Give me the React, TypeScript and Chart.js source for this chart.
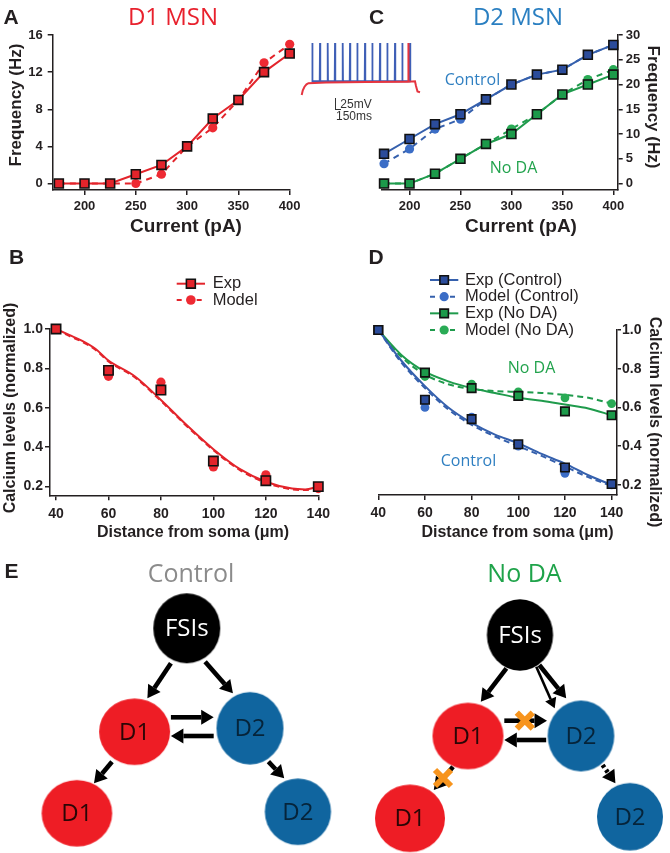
import React, { useEffect, useRef } from "react";
import { Chart, registerables } from "chart.js";

Chart.register(...registerables);

// ================= DATA =================
// Panel A – D1 MSN f-I curve
const currentPA = [175, 200, 225, 250, 275, 300, 325, 350, 375, 400];
const currentTicks = [200, 250, 300, 350, 400];
const d1ExpHz = [0, 0, 0, 1, 2, 4, 7, 9, 12, 14];
const d1ModelHz = [0, 0, 0, 0, 1, 4, 6, 9, 13, 15];
const freqTicksA = [0, 4, 8, 12, 16];

// Panel C – D2 MSN f-I curves
const d2CtrlExpHz = [6, 9, 12, 14, 17, 20, 22, 23, 26, 28];
const d2CtrlModelHz = [4, 7, 11, 13, 17, 20, 22, 23, 26, 28];
const d2NoDAExpHz = [0, 0, 2, 5, 8, 10, 14, 18, 20, 22];
const d2NoDAModelHz = [0, 0, 2, 5, 8, 11, 14, 18, 21, 23];
const freqTicksC = [0, 5, 10, 15, 20, 25, 30];

// Panels B, D – calcium vs distance
const distUm = [40, 60, 80, 100, 120, 140];
const distTicks = [40, 60, 80, 100, 120, 140];
const caTicks = [0.2, 0.4, 0.6, 0.8, 1.0];
const d1CaExp = [1.0, 0.79, 0.69, 0.33, 0.23, 0.2];
const d1CaModel = [1.0, 0.76, 0.73, 0.3, 0.26, 0.19];
const d1FitUm = [40, 45, 50, 55, 60, 70, 80, 90, 100, 110, 120, 130, 135, 140];
const d1FitExp = [1.0, 0.97, 0.94, 0.9, 0.84, 0.76, 0.64, 0.51, 0.39, 0.29, 0.225, 0.19, 0.186, 0.2];
const d1FitModel = [0.998, 0.965, 0.935, 0.895, 0.835, 0.755, 0.635, 0.505, 0.385, 0.285, 0.22, 0.186, 0.183, 0.195];

const d2CaCtrlExp = [1.0, 0.64, 0.54, 0.41, 0.29, 0.205];
const d2CaCtrlModel = [1.0, 0.6, 0.55, 0.4, 0.26, 0.2];
const d2CaNoDAExp = [1.0, 0.78, 0.7, 0.66, 0.58, 0.56];
const d2CaNoDAModel = [1.0, 0.76, 0.72, 0.68, 0.65, 0.62];
const d2FitUm = [40, 50, 60, 70, 80, 90, 100, 110, 120, 130, 140];
const d2FitCtrlExp = [1.0, 0.84, 0.71, 0.6, 0.52, 0.46, 0.415, 0.36, 0.31, 0.25, 0.2];
const d2FitCtrlModel = [1.0, 0.83, 0.7, 0.59, 0.51, 0.45, 0.4, 0.35, 0.295, 0.24, 0.195];
const d2FitNoDAExp = [1.0, 0.87, 0.785, 0.735, 0.7, 0.675, 0.65, 0.635, 0.615, 0.595, 0.56];
const d2FitNoDAModel = [1.0, 0.86, 0.77, 0.72, 0.695, 0.685, 0.68, 0.675, 0.665, 0.65, 0.62];

const legendB = ["Exp", "Model"];
const legendD = ["Exp (Control)", "Model (Control)", "Exp (No DA)", "Model (No DA)"];

// Inset voltage traces (time in ms, voltage in mV)
const spikeTimesMs = [163, 240, 317, 390, 467, 540, 613, 690, 763, 840, 913, 990, 1063, 1140];
const spikePeakMv = 20;
const blueBaseMv = -78;
const redTraceMs = [57, 68, 85, 105, 125, 300, 700, 1100, 1120, 1123, 1126, 1190, 1200, 1215, 1240];
const redTraceMv = [-113, -101, -92, -86, -83, -81, -80, -79, -79, 20, -79, -78, -90, -104, -106];

// Panel E – circuit diagram (diagram units)
const nodeNames = ["FSIs", "D1", "D2", "D1", "D2", "FSIs", "D1", "D2", "D1", "D2"];
const nodeKind = ["fsi", "d1", "d2", "d1", "d2", "fsi", "d1", "d2", "d1", "d2"];
const nodeX = [186.8, 134.6, 250, 76.9, 297.9, 520, 468, 581, 410, 630];
const nodeY = [628.3, 731.7, 728.3, 813.3, 811.7, 635, 736, 736, 818.3, 816.7];
const nodeRx = [33.5, 35.5, 33.5, 35.3, 33.1, 33.1, 35.5, 33.3, 35, 33];
const nodeRy = [35, 33.3, 36.2, 33.3, 33.3, 35.8, 33.3, 35.5, 33.8, 33.7];
const arrowX1 = [170.9, 205.1, 170.9, 213.7, 112, 268.4, 506.4, 539.3, 536.3, 504.3, 546.2, 453, 602.6];
const arrowY1 = [663.3, 661.7, 717.3, 736, 761.7, 761.7, 668.3, 665, 666.7, 720.7, 740, 766.7, 765];
const arrowX2 = [147.4, 232.9, 213.7, 170.9, 94, 284.2, 480.8, 566.2, 554.7, 547, 504.3, 433.8, 615.4];
const arrowY2 = [698.3, 693.3, 717.3, 736, 783.3, 778.3, 701.7, 698.3, 708.3, 720.7, 740, 790, 783.3];
const arrowKind = ["solid", "solid", "solid", "solid", "solid", "solid", "solid", "solid", "thin", "solid", "solid", "solid", "dotted"];
const blockX = [524.8, 443];
const blockY = [720.7, 778];

// ================= STYLE =================
const ARIAL = "'Liberation Sans', Arial, Helvetica, sans-serif";
const MYRIAD = "'Open Sans', 'Noto Sans', sans-serif";
const INK = "#231f20";
const AXIS = "#231f20";
const RED = "#e3242b";
const RED_DOT = "#ee2a33";
const BLUE_LINE = "#3560ad";
const BLUE_SQ = "#2b4c9b";
const BLUE_DOT = "#3b6dc6";
const GREEN_LINE = "#1f9b4c";
const GREEN_SQ = "#1c9a4a";
const GREEN_DOT = "#29ab55";

const xy = (xs: number[], ys: number[]) => xs.map((x, i) => ({ x, y: ys[i] }));

function linScale(o: any) {
  const isX = o.pos === "bottom";
  return {
    type: "linear",
    position: o.pos,
    min: o.min,
    max: o.max,
    afterBuildTicks: (s: any) => {
      s.ticks = o.ticks.map((v: number) => ({ value: v }));
    },
    afterFit: (s: any) => {
      if (isX) s.height = o.fit;
      else s.width = o.fit;
    },
    grid: {
      display: true,
      drawOnChartArea: false,
      drawTicks: true,
      tickLength: o.tickLen ?? 5,
      tickWidth: 1.5,
      color: AXIS,
      lineWidth: 1.5,
    },
    border: { display: true, color: AXIS, width: 1.5 },
    ticks: {
      autoSkip: false,
      maxRotation: 0,
      padding: o.pad,
      color: INK,
      font: { family: ARIAL, size: o.size, weight: "bold" },
      callback: o.fmt ? o.fmt : (v: any) => String(v),
    },
  };
}

function baseOptions(padding: any, scales: any) {
  return {
    responsive: false,
    animation: false,
    events: [],
    layout: { padding, autoPadding: false },
    plugins: { legend: { display: false }, tooltip: { enabled: false } },
    scales,
  };
}

function drawMarker(ctx: CanvasRenderingContext2D, style: string, x: number, y: number, r: number, fill: string, bw: number) {
  ctx.beginPath();
  if (style === "rect") {
    const s = r * Math.SQRT1_2;
    ctx.rect(x - s, y - s, 2 * s, 2 * s);
  } else {
    ctx.arc(x, y, r, 0, Math.PI * 2);
  }
  ctx.fillStyle = fill;
  ctx.fill();
  if (bw > 0) {
    ctx.lineWidth = bw;
    ctx.strokeStyle = "#111";
    ctx.stroke();
  }
}

function makeLegend(id: string, items: any[], g: any) {
  return {
    id,
    afterDraw(chart: any) {
      const ctx = chart.ctx as CanvasRenderingContext2D;
      items.forEach((it, i) => {
        const y = g.y + i * g.rowH;
        ctx.save();
        ctx.strokeStyle = it.color;
        ctx.lineWidth = 2;
        ctx.setLineDash(it.dash);
        ctx.beginPath();
        ctx.moveTo(g.x0, y);
        ctx.lineTo(g.x1, y);
        ctx.stroke();
        ctx.setLineDash([]);
        drawMarker(ctx, it.marker, (g.x0 + g.x1) / 2, y, it.r, it.fill, it.bw);
        ctx.fillStyle = INK;
        ctx.font = `16.5px ${ARIAL}`;
        ctx.textBaseline = "middle";
        ctx.textAlign = "left";
        ctx.fillText(it.label, g.tx, y);
        ctx.restore();
      });
    },
  };
}

// ================= CHART CONFIGS =================
function configA() {
  return {
    type: "scatter",
    data: {
      datasets: [
        {
          data: xy(currentPA, d1ExpHz), showLine: true, borderColor: RED, borderWidth: 2,
          pointStyle: "rect", pointRadius: 6.3, pointBackgroundColor: RED, pointBorderColor: "#111",
          pointBorderWidth: 1.6, clip: false, order: 0,
        },
        {
          data: xy(currentPA, d1ModelHz), showLine: true, borderColor: RED, borderWidth: 2, borderDash: [6, 5],
          pointStyle: "circle", pointRadius: 4.6, pointBackgroundColor: RED_DOT, pointBorderWidth: 0, clip: false, order: 1,
        },
      ],
    },
    options: baseOptions(
      { left: 0, right: 45.3, top: 35, bottom: 0 },
      {
        x: linScale({ pos: "bottom", min: 169, max: 400, ticks: currentTicks, fit: 50, pad: 4, size: 13 }),
        y: linScale({ pos: "left", min: -0.7, max: 16, ticks: freqTicksA, fit: 52.7, pad: 5, size: 13 }),
      }
    ),
  };
}

function configC() {
  return {
    type: "scatter",
    data: {
      datasets: [
        {
          data: xy(currentPA, d2CtrlExpHz), showLine: true, borderColor: BLUE_LINE, borderWidth: 2,
          pointStyle: "rect", pointRadius: 6.3, pointBackgroundColor: BLUE_SQ, pointBorderColor: "#111",
          pointBorderWidth: 1.6, clip: false, order: 0,
        },
        {
          data: xy(currentPA, d2NoDAExpHz), showLine: true, borderColor: GREEN_LINE, borderWidth: 2,
          pointStyle: "rect", pointRadius: 6.3, pointBackgroundColor: GREEN_SQ, pointBorderColor: "#111",
          pointBorderWidth: 1.6, clip: false, order: 1,
        },
        {
          data: xy(currentPA, d2CtrlModelHz), showLine: true, borderColor: BLUE_LINE, borderWidth: 2, borderDash: [6, 5],
          pointStyle: "circle", pointRadius: 4.6, pointBackgroundColor: BLUE_DOT, pointBorderWidth: 0, clip: false, order: 2,
        },
        {
          data: xy(currentPA, d2NoDAModelHz), showLine: true, borderColor: GREEN_LINE, borderWidth: 2, borderDash: [6, 5],
          pointStyle: "circle", pointRadius: 4.6, pointBackgroundColor: GREEN_DOT, pointBorderWidth: 0, clip: false, order: 3,
        },
      ],
    },
    options: baseOptions(
      { left: 46.7, right: 0, top: 35, bottom: 0 },
      {
        x: linScale({ pos: "bottom", min: 172.7, max: 404.3, ticks: currentTicks, fit: 50, pad: 4, size: 13 }),
        y: linScale({ pos: "right", min: -1.3, max: 30, ticks: freqTicksC, fit: 52.3, pad: 3, size: 13 }),
      }
    ),
  };
}

const fmt1 = (v: any) => Number(v).toFixed(1);

function configB() {
  return {
    type: "scatter",
    data: {
      datasets: [
        {
          data: xy(distUm, d1CaExp), showLine: false, pointStyle: "rect", pointRadius: 6.6,
          pointBackgroundColor: RED, pointBorderColor: "#111", pointBorderWidth: 1.6, clip: false, order: 0,
        },
        {
          data: xy(distUm, d1CaModel), showLine: false, pointStyle: "circle", pointRadius: 4.6,
          pointBackgroundColor: RED_DOT, pointBorderWidth: 0, clip: false, order: 1,
        },
        {
          data: xy(d1FitUm, d1FitExp), showLine: true, borderColor: RED, borderWidth: 2, pointRadius: 0,
          cubicInterpolationMode: "monotone", clip: false, order: 2,
        },
        {
          data: xy(d1FitUm, d1FitModel), showLine: true, borderColor: RED, borderWidth: 2, borderDash: [6, 4], pointRadius: 0,
          cubicInterpolationMode: "monotone", clip: false, order: 3,
        },
      ],
    },
    options: baseOptions(
      { left: 0, right: 15, top: 89, bottom: 0 },
      {
        x: linScale({ pos: "bottom", min: 37.7, max: 140.2, ticks: distTicks, fit: 49.7, pad: 5, size: 14 }),
        y: linScale({ pos: "left", min: 0.156, max: 1.0, ticks: caTicks, fit: 50, pad: 2, size: 14, fmt: fmt1 }),
      }
    ),
    plugins: [
      makeLegend(
        "legB",
        [
          { label: legendB[0], color: RED, dash: [], marker: "rect", r: 6.3, fill: RED, bw: 1.6 },
          { label: legendB[1], color: RED, dash: [5, 5], marker: "circle", r: 4.8, fill: RED_DOT, bw: 0 },
        ],
        { x0: 176.7, x1: 205, tx: 212.7, y: 43.7, rowH: 16.3 }
      ),
    ],
  };
}

function configD() {
  return {
    type: "scatter",
    data: {
      datasets: [
        {
          data: xy(distUm, d2CaCtrlExp), showLine: false, pointStyle: "rect", pointRadius: 6,
          pointBackgroundColor: BLUE_SQ, pointBorderColor: "#111", pointBorderWidth: 1.6, clip: false, order: 0,
        },
        {
          data: xy(distUm, d2CaNoDAExp), showLine: false, pointStyle: "rect", pointRadius: 6,
          pointBackgroundColor: GREEN_SQ, pointBorderColor: "#111", pointBorderWidth: 1.6, clip: false, order: 1,
        },
        {
          data: xy(distUm, d2CaCtrlModel), showLine: false, pointStyle: "circle", pointRadius: 4.4,
          pointBackgroundColor: BLUE_DOT, pointBorderWidth: 0, clip: false, order: 2,
        },
        {
          data: xy(distUm, d2CaNoDAModel), showLine: false, pointStyle: "circle", pointRadius: 4.4,
          pointBackgroundColor: GREEN_DOT, pointBorderWidth: 0, clip: false, order: 3,
        },
        {
          data: xy(d2FitUm, d2FitCtrlExp), showLine: true, borderColor: BLUE_LINE, borderWidth: 2, pointRadius: 0,
          cubicInterpolationMode: "monotone", clip: false, order: 4,
        },
        {
          data: xy(d2FitUm, d2FitCtrlModel), showLine: true, borderColor: BLUE_LINE, borderWidth: 2, borderDash: [6, 4],
          pointRadius: 0, cubicInterpolationMode: "monotone", clip: false, order: 5,
        },
        {
          data: xy(d2FitUm, d2FitNoDAExp), showLine: true, borderColor: GREEN_LINE, borderWidth: 2, pointRadius: 0,
          cubicInterpolationMode: "monotone", clip: false, order: 6,
        },
        {
          data: xy(d2FitUm, d2FitNoDAModel), showLine: true, borderColor: GREEN_LINE, borderWidth: 2, borderDash: [6, 4],
          pointRadius: 0, cubicInterpolationMode: "monotone", clip: false, order: 7,
        },
      ],
    },
    options: baseOptions(
      { left: 43.3, right: 0, top: 90, bottom: 0 },
      {
        x: linScale({ pos: "bottom", min: 40, max: 142.3, ticks: distTicks, fit: 50, pad: 5, size: 14 }),
        y: linScale({ pos: "right", min: 0.148, max: 1.0, ticks: caTicks, fit: 53, pad: 1, size: 14, fmt: fmt1, tickLen: 4 }),
      }
    ),
    plugins: [
      makeLegend(
        "legD",
        [
          { label: legendD[0], color: BLUE_LINE, dash: [], marker: "rect", r: 6, fill: BLUE_SQ, bw: 1.6 },
          { label: legendD[1], color: BLUE_LINE, dash: [5, 5], marker: "circle", r: 4.6, fill: BLUE_DOT, bw: 0 },
          { label: legendD[2], color: GREEN_LINE, dash: [], marker: "rect", r: 6, fill: GREEN_SQ, bw: 1.6 },
          { label: legendD[3], color: GREEN_LINE, dash: [5, 5], marker: "circle", r: 4.6, fill: GREEN_DOT, bw: 0 },
        ],
        { x0: 95, x1: 123.3, tx: 130, y: 40, rowH: 16.67 }
      ),
    ],
  };
}

function configInset() {
  const blue: any[] = [];
  spikeTimesMs.forEach((t) => {
    blue.push({ x: t - 3, y: blueBaseMv }, { x: t, y: spikePeakMv }, { x: t + 3, y: blueBaseMv });
  });
  return {
    type: "scatter",
    data: {
      datasets: [
        { data: xy(redTraceMs, redTraceMv), showLine: true, borderColor: "#e5343f", borderWidth: 2, pointRadius: 0, order: 0 },
        { data: blue, showLine: true, borderColor: "#3f5fb6", borderWidth: 1.8, pointRadius: 0, order: 1 },
      ],
    },
    options: {
      responsive: false,
      animation: false,
      events: [],
      layout: { padding: 0, autoPadding: false },
      plugins: { legend: { display: false }, tooltip: { enabled: false } },
      scales: {
        x: { type: "linear", min: 0, max: 1260, display: false },
        y: { type: "linear", min: -126, max: 32.8, display: false },
      },
    },
  };
}

function configE() {
  const nodeColor: Record<string, string> = { fsi: "#000000", d1: "#ee1d25", d2: "#10659f" };
  const textColor: Record<string, string> = { fsi: "#ffffff", d1: "#2a0606", d2: "#06243a" };
  const nodeImages = nodeX.map((_, i) => {
    const c = document.createElement("canvas");
    const w = Math.ceil(nodeRx[i] * 2 + 2);
    const h = Math.ceil(nodeRy[i] * 2 + 2);
    c.width = w;
    c.height = h;
    const g = c.getContext("2d")!;
    g.fillStyle = nodeColor[nodeKind[i]];
    g.beginPath();
    g.ellipse(w / 2, h / 2, nodeRx[i], nodeRy[i], 0, 0, Math.PI * 2);
    g.fill();
    return c;
  });
  const diagram = {
    id: "diagram",
    beforeDatasetsDraw(chart: any) {
      const ctx = chart.ctx as CanvasRenderingContext2D;
      const sx = chart.scales.x;
      const sy = chart.scales.y;
      arrowX1.forEach((_, i) => {
        const x1 = sx.getPixelForValue(arrowX1[i]);
        const y1 = sy.getPixelForValue(arrowY1[i]);
        const x2 = sx.getPixelForValue(arrowX2[i]);
        const y2 = sy.getPixelForValue(arrowY2[i]);
        const ang = Math.atan2(y2 - y1, x2 - x1);
        const kind = arrowKind[i];
        const headL = kind === "thin" ? 10 : 12.5;
        const headW = kind === "thin" ? 6 : 7.5;
        const bx = x2 - headL * Math.cos(ang);
        const by = y2 - headL * Math.sin(ang);
        ctx.save();
        ctx.strokeStyle = "#000";
        ctx.fillStyle = "#000";
        ctx.lineWidth = kind === "thin" ? 2.6 : 4.6;
        if (kind === "dotted") ctx.setLineDash([3, 3]);
        ctx.beginPath();
        ctx.moveTo(x1, y1);
        ctx.lineTo(bx, by);
        ctx.stroke();
        ctx.setLineDash([]);
        ctx.beginPath();
        ctx.moveTo(x2, y2);
        ctx.lineTo(bx + headW * Math.sin(ang), by - headW * Math.cos(ang));
        ctx.lineTo(bx - headW * Math.sin(ang), by + headW * Math.cos(ang));
        ctx.closePath();
        ctx.fill();
        ctx.restore();
      });
    },
    afterDatasetsDraw(chart: any) {
      const ctx = chart.ctx as CanvasRenderingContext2D;
      const sx = chart.scales.x;
      const sy = chart.scales.y;
      ctx.save();
      ctx.font = `24px ${MYRIAD}`;
      ctx.textAlign = "center";
      ctx.textBaseline = "middle";
      nodeNames.forEach((name, i) => {
        ctx.fillStyle = textColor[nodeKind[i]];
        ctx.fillText(name, sx.getPixelForValue(nodeX[i]), sy.getPixelForValue(nodeY[i]) + 1);
      });
      ctx.strokeStyle = "#f7941d";
      ctx.lineWidth = 6;
      ctx.lineCap = "butt";
      blockX.forEach((bxv, i) => {
        const cx = sx.getPixelForValue(bxv);
        const cy = sy.getPixelForValue(blockY[i]);
        const d = 8;
        ctx.beginPath();
        ctx.moveTo(cx - d, cy - d);
        ctx.lineTo(cx + d, cy + d);
        ctx.moveTo(cx + d, cy - d);
        ctx.lineTo(cx - d, cy + d);
        ctx.stroke();
      });
      ctx.restore();
    },
  };
  return {
    type: "scatter",
    data: {
      datasets: [
        {
          data: xy(nodeX, nodeY),
          pointStyle: nodeImages,
          pointRadius: 34,
          showLine: false,
          clip: false,
        },
      ],
    },
    options: {
      responsive: false,
      animation: false,
      events: [],
      layout: { padding: 0, autoPadding: false },
      plugins: { legend: { display: false }, tooltip: { enabled: false } },
      scales: {
        x: { type: "linear", min: 0, max: 670, display: false },
        y: { type: "linear", min: 545, max: 853, reverse: true, display: false },
      },
    },
    plugins: [diagram],
  };
}

// ================= COMPONENTS =================
function ChartBox(props: { left: number; top: number; width: number; height: number; build: () => any }) {
  const ref = useRef<HTMLCanvasElement>(null);
  useEffect(() => {
    const chart = new Chart(ref.current as HTMLCanvasElement, props.build());
    return () => chart.destroy();
  }, []);
  return (
    <canvas
      ref={ref}
      width={props.width}
      height={props.height}
      style={{ position: "absolute", left: props.left, top: props.top, width: props.width, height: props.height }}
    />
  );
}

function Txt(p: { x: number; y: number; size: number; color?: string; weight?: number; family?: string; rotate?: number; children: any }) {
  return (
    <div
      style={{
        position: "absolute",
        left: p.x,
        top: p.y,
        transform: `translate(-50%, -50%) rotate(${p.rotate ?? 0}deg)`,
        fontSize: p.size,
        fontWeight: p.weight ?? 400,
        color: p.color ?? INK,
        fontFamily: p.family ?? ARIAL,
        lineHeight: 1,
        whiteSpace: "nowrap",
      }}
    >
      {p.children}
    </div>
  );
}

export default function App() {
  return (
    <div style={{ position: "absolute", left: 0, top: 0, width: 670, height: 853, background: "#fff", overflow: "hidden" }}>
      <ChartBox left={0} top={0} width={335} height={240} build={configA} />
      <ChartBox left={335} top={0} width={335} height={240} build={configC} />
      <ChartBox left={0} top={240} width={335} height={305} build={configB} />
      <ChartBox left={335} top={240} width={335} height={305} build={configD} />
      <ChartBox left={0} top={545} width={670} height={308} build={configE} />
      <ChartBox left={296} top={38} width={126} height={62} build={configInset} />

      {/* panel letters */}
      <Txt x={11} y={16} size={21} weight={700}>A</Txt>
      <Txt x={376.5} y={15.5} size={21} weight={700}>C</Txt>
      <Txt x={16.5} y={255.5} size={21} weight={700}>B</Txt>
      <Txt x={376} y={255.5} size={21} weight={700}>D</Txt>
      <Txt x={11.5} y={570} size={21} weight={700}>E</Txt>

      {/* titles */}
      <Txt x={173} y={16} size={24} color="#e8212d" family={MYRIAD}>D1 MSN</Txt>
      <Txt x={518} y={16} size={24} color="#2a7fc1" family={MYRIAD}>D2 MSN</Txt>

      {/* axis titles */}
      <Txt x={15} y={105} size={17} weight={700} rotate={-90}>Frequency (Hz)</Txt>
      <Txt x={186} y={224.5} size={19} weight={700}>Current (pA)</Txt>
      <Txt x={653} y={106.5} size={17} weight={700} rotate={90}>Frequency (Hz)</Txt>
      <Txt x={521} y={224.5} size={19} weight={700}>Current (pA)</Txt>
      <Txt x={9.5} y={408} size={16} weight={700} rotate={-90}>Calcium levels (normalized)</Txt>
      <Txt x={655} y={422} size={16} weight={700} rotate={90}>Calcium levels (normalized)</Txt>
      <Txt x={193} y={531.5} size={16} weight={700}>Distance from soma (μm)</Txt>
      <Txt x={517.5} y={531.5} size={16} weight={700}>Distance from soma (μm)</Txt>

      {/* annotations */}
      <Txt x={472.5} y={78.5} size={16} color="#2f7fc1" family={MYRIAD}>Control</Txt>
      <Txt x={513.5} y={166.5} size={16} color="#22a34d" family={MYRIAD}>No DA</Txt>
      <Txt x={531.5} y={366.5} size={16} color="#22a34d" family={MYRIAD}>No DA</Txt>
      <Txt x={468.5} y={459.5} size={16} color="#2f7fc1" family={MYRIAD}>Control</Txt>

      {/* inset scale bar */}
      <div style={{ position: "absolute", left: 334.5, top: 98, width: 5, height: 11, borderLeft: "1.3px solid #333", borderBottom: "1.3px solid #333" }} />
      <Txt x={356} y={103.5} size={12} color="#333">25mV</Txt>
      <Txt x={354} y={115.5} size={12} color="#333">150ms</Txt>

      {/* panel E titles */}
      <Txt x={191} y={572} size={25} color="#8b8b8b" family={MYRIAD}>Control</Txt>
      <Txt x={524.5} y={572} size={25} color="#1fa34a" family={MYRIAD}>No DA</Txt>
    </div>
  );
}
